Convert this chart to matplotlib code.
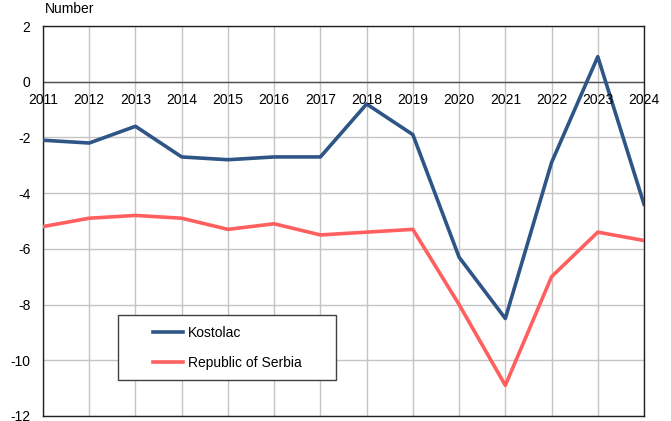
import matplotlib
matplotlib.use('Agg')
import matplotlib.pyplot as plt
from matplotlib.patches import Rectangle

plt.rcParams['font.family'] = ['Liberation Sans', 'DejaVu Sans']

years = list(range(2011, 2025))
kostolac = [-2.1, -2.2, -1.6, -2.7, -2.8, -2.7, -2.7, -0.8, -1.9, -6.3, -8.5, -2.9, 0.9, -4.4]
serbia = [-5.2, -4.9, -4.8, -4.9, -5.3, -5.1, -5.5, -5.4, -5.3, -8.0, -10.9, -7.0, -5.4, -5.7]
yticks = [2, 0, -2, -4, -6, -8, -10, -12]

fig = plt.figure(figsize=(6.71, 4.21), dpi=100)
ax = fig.add_axes([0.0641, 0.0119, 0.8957, 0.9263])

ax.plot(years, kostolac, color='#2E5586', linewidth=2.6, label='Kostolac', zorder=3)
ax.plot(years, serbia, color='#FF5F5F', linewidth=2.6, label='Republic of Serbia', zorder=3)

ax.set_xlim(2011, 2024)
ax.set_ylim(-12, 2)
ax.set_yticks(yticks)
ax.set_yticklabels([str(v) for v in yticks], fontsize=10)
ax.set_xticks(years)
ax.tick_params(axis='x', length=0, labelbottom=False)
ax.tick_params(axis='y', length=0, pad=9)
ax.grid(True, color='#c4c4c4', linewidth=1)
ax.axhline(0, color='#505050', linewidth=1, zorder=2)
for s in ax.spines.values():
    s.set_color('#202020')
    s.set_linewidth(1)

# year labels sit just under the zero line
for y in years:
    ax.annotate(str(y), (y, 0), xytext=(0, -8), textcoords='offset points',
                ha='center', va='top', fontsize=10)

fig.text(0.067, 0.962, 'Number', fontsize=10, ha='left', va='bottom')

# legend box drawn separately so the entries can sit centred with wide side margins
box = Rectangle((0.1248, 0.0923), 0.3627, 0.1667, transform=ax.transAxes,
                facecolor='white', edgecolor='#404040', linewidth=1, zorder=4)
ax.add_patch(box)
leg = ax.legend(loc='center left', bbox_to_anchor=(0.183, 0.1745), frameon=False,
                fontsize=10, handlelength=2.16, handletextpad=0.38,
                labelspacing=1.2, borderpad=0, borderaxespad=0)
leg.set_zorder(5)

fig.savefig('out.png', dpi=100)
